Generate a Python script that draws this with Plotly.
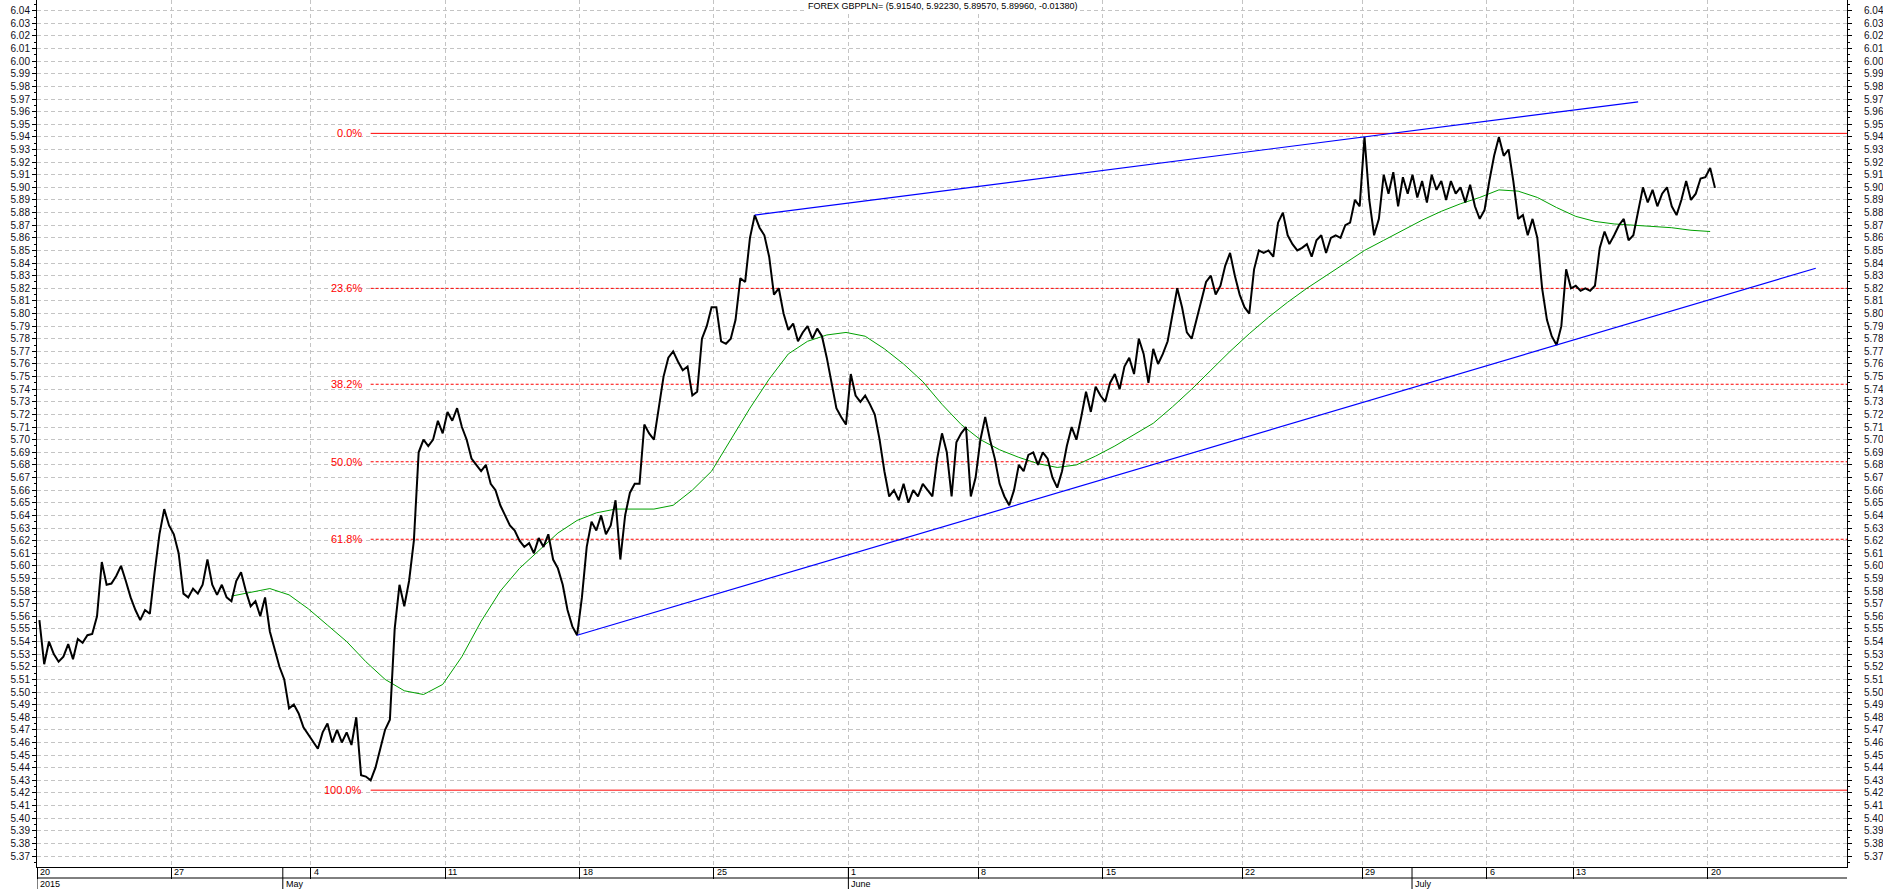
import datetime as dt
import plotly.graph_objects as go

TITLE = "FOREX GBPPLN= (5.91540, 5.92230, 5.89570, 5.89960, -0.01380)"

# Monday of every week shown (one list of closes per week, evenly spaced samples)
week_starts = ["2015-04-20", "2015-04-27", "2015-05-04", "2015-05-11", "2015-05-18",
               "2015-05-25", "2015-06-01", "2015-06-08", "2015-06-15", "2015-06-22",
               "2015-06-29", "2015-07-06", "2015-07-13", "2015-07-20"]
year_label = "2015"
month_starts = ["2015-05-01", "2015-06-01", "2015-07-01"]
month_names = ["May", "June", "July"]

close_w0420 = [5.557, 5.522, 5.540, 5.530, 5.524, 5.528, 5.538, 5.526, 5.542, 5.539, 5.545, 5.546,
               5.560, 5.603, 5.585, 5.586, 5.592, 5.600, 5.588, 5.575, 5.565, 5.557, 5.565, 5.562,
               5.595, 5.625, 5.645, 5.632]
close_w0427 = [5.625, 5.610, 5.578, 5.575, 5.582, 5.578, 5.585, 5.605, 5.585, 5.577, 5.585, 5.575,
               5.572, 5.588, 5.595, 5.580, 5.568, 5.572, 5.560, 5.575, 5.548, 5.535, 5.520, 5.510,
               5.487, 5.490, 5.483, 5.472, 5.466]
close_w0504 = [5.460, 5.455, 5.468, 5.475, 5.460, 5.470, 5.460, 5.468, 5.458, 5.480, 5.434, 5.433,
               5.430, 5.440, 5.455, 5.470, 5.478, 5.550, 5.585, 5.568, 5.588, 5.620, 5.690, 5.700,
               5.695, 5.700, 5.715, 5.705]
close_w0511 = [5.722, 5.715, 5.725, 5.710, 5.700, 5.685, 5.680, 5.675, 5.680, 5.665, 5.660, 5.648,
               5.640, 5.632, 5.628, 5.620, 5.615, 5.618, 5.610, 5.622, 5.615, 5.625, 5.605, 5.598,
               5.585, 5.565, 5.552, 5.545]
close_w0518 = [5.575, 5.615, 5.635, 5.628, 5.640, 5.625, 5.632, 5.652, 5.605, 5.640, 5.658, 5.665,
               5.665, 5.712, 5.705, 5.700, 5.725, 5.750, 5.765, 5.770, 5.762, 5.755, 5.758, 5.735,
               5.738, 5.780, 5.790, 5.805]
close_w0525 = [5.805, 5.778, 5.776, 5.780, 5.795, 5.828, 5.825, 5.860, 5.878, 5.868, 5.862, 5.845,
               5.815, 5.820, 5.800, 5.787, 5.792, 5.778, 5.785, 5.790, 5.780, 5.788, 5.782, 5.765,
               5.745, 5.725, 5.718, 5.712]
close_w0601 = [5.752, 5.735, 5.730, 5.735, 5.728, 5.720, 5.700, 5.675, 5.655, 5.660, 5.652, 5.665,
               5.650, 5.660, 5.655, 5.665, 5.660, 5.655, 5.685, 5.705, 5.690, 5.655, 5.698, 5.705,
               5.710, 5.655, 5.670]
close_w0608 = [5.700, 5.718, 5.700, 5.685, 5.665, 5.655, 5.648, 5.660, 5.680, 5.675, 5.688, 5.690,
               5.680, 5.690, 5.685, 5.670, 5.662, 5.675, 5.695, 5.710, 5.700, 5.718, 5.738, 5.722,
               5.742, 5.735]
close_w0615 = [5.730, 5.745, 5.752, 5.740, 5.758, 5.765, 5.752, 5.780, 5.768, 5.745, 5.772, 5.760,
               5.768, 5.778, 5.800, 5.820, 5.805, 5.785, 5.780, 5.795, 5.810, 5.825, 5.830, 5.815,
               5.822, 5.838, 5.848, 5.830, 5.815]
close_w0622 = [5.805, 5.800, 5.835, 5.850, 5.848, 5.850, 5.845, 5.872, 5.880, 5.862, 5.855, 5.850,
               5.852, 5.855, 5.845, 5.858, 5.862, 5.848, 5.860, 5.862, 5.860, 5.870, 5.872, 5.890,
               5.885]
close_w0629 = [5.940, 5.890, 5.862, 5.875, 5.910, 5.895, 5.912, 5.885, 5.908, 5.895, 5.910, 5.892,
               5.905, 5.888, 5.910, 5.898, 5.905, 5.890, 5.905, 5.895, 5.900, 5.888, 5.902, 5.885,
               5.875, 5.882]
close_w0706 = [5.905, 5.925, 5.940, 5.925, 5.930, 5.905, 5.875, 5.878, 5.862, 5.875, 5.860, 5.820,
               5.795, 5.782, 5.775, 5.790, 5.835, 5.820]
close_w0713 = [5.822, 5.818, 5.820, 5.818, 5.822, 5.852, 5.865, 5.855, 5.862, 5.870, 5.875, 5.858,
               5.862, 5.882, 5.900, 5.888, 5.898, 5.885, 5.895, 5.900, 5.885, 5.878, 5.890, 5.905,
               5.890, 5.895, 5.907, 5.908]
close_w0720 = [5.9154, 5.8996]

# moving average (green), read every 4th sample of the close series
MA_STEP = 4
ma_values = [None] * 10 + [
    5.576, 5.579, 5.582, 5.577, 5.566, 5.553, 5.540, 5.524, 5.510, 5.501, 5.498, 5.506,
    5.528, 5.556, 5.580, 5.598, 5.612, 5.626, 5.636, 5.642, 5.645, 5.645, 5.645, 5.648,
    5.660, 5.675, 5.700, 5.725, 5.748, 5.768, 5.778, 5.783, 5.785, 5.782, 5.772, 5.760,
    5.746, 5.728, 5.712, 5.700, 5.692, 5.686, 5.681, 5.678, 5.680, 5.687, 5.695, 5.704,
    5.713, 5.726, 5.740, 5.755, 5.770, 5.784, 5.797, 5.809, 5.820, 5.830, 5.840, 5.850,
    5.858, 5.866, 5.874, 5.881, 5.887, 5.892, 5.898, 5.897, 5.892, 5.884, 5.877, 5.873,
    5.871, 5.870, 5.869, 5.868, 5.866, 5.865]

# Fibonacci retracement anchors and levels
fib_high = 5.9428
fib_low = 5.4222
fib_levels = [0.0, 23.6, 38.2, 50.0, 61.8, 100.0]

# trend channel anchors (weeks whose extreme close anchors each line) and extension in samples
upper_anchor_weeks = ["2015-05-25", "2015-06-29"]
upper_extend = 57
lower_anchor_weeks = ["2015-05-11", "2015-07-06"]
lower_extend = 54

weeks = [close_w0420, close_w0427, close_w0504, close_w0511, close_w0518, close_w0525,
         close_w0601, close_w0608, close_w0615, close_w0622, close_w0629, close_w0706,
         close_w0713, close_w0720]
SAMPLES_PER_WEEK = 28

# ---------------------------------------------------------------------------
close = [v for w in weeks for v in w]
xs = list(range(len(close)))
starts = []
acc = 0
for w in weeks:
    starts.append(acc)
    acc += len(w)
X_MIN = -0.5
X_MAX = len(close) - 0.5 + SAMPLES_PER_WEEK - 1

week_dates = [dt.date.fromisoformat(d) for d in week_starts]
day_labels = [str(d.day) for d in week_dates]
tick_pos = [s - 0.5 for s in starts]


def date_pos(dstr):
    d = dt.date.fromisoformat(dstr)
    i = max(j for j, wd in enumerate(week_dates) if wd <= d)
    off = (d - week_dates[i]).days
    return starts[i] - 0.5 + off / 5.0 * len(weeks[i])


def anchor(week, mode):
    i = week_starts.index(week)
    vals = weeks[i]
    v = max(vals) if mode == "max" else min(vals)
    return starts[i] + vals.index(v), v


def trend(anchors, mode, ext):
    (x1, y1), (x2, y2) = anchor(anchors[0], mode), anchor(anchors[1], mode)
    slope = (y2 - y1) / (x2 - x1)
    xe = x2 + ext
    return [x1, xe], [y1, y1 + slope * (xe - x1)]


fig = go.Figure()

# fib lines
fib_x0 = close.index(min(close))
for lvl in fib_levels:
    price = fib_high - (fib_high - fib_low) * lvl / 100.0
    solid = lvl in (0.0, 100.0)
    fig.add_trace(go.Scatter(x=[fib_x0, X_MAX], y=[price, price], mode="lines",
                             line=dict(color="#ff0000", width=1,
                                       dash="solid" if solid else "3px,2px"),
                             hoverinfo="skip"))
    fig.add_annotation(x=fib_x0, y=price, xref="x", yref="y", text=f"{lvl:.1f}%",
                       showarrow=False, xanchor="right", yanchor="middle", xshift=-7,
                       font=dict(family="Liberation Sans, Arial, sans-serif", size=11,
                                 color="#ff0000"))

# moving average
ma_x = [i * MA_STEP for i in range(len(ma_values))]
fig.add_trace(go.Scatter(x=ma_x, y=ma_values, mode="lines",
                         line=dict(color="#00a000", width=1), connectgaps=False,
                         hoverinfo="skip"))

# price
fig.add_trace(go.Scatter(x=xs, y=close, mode="lines",
                         line=dict(color="#000000", width=2), hoverinfo="skip"))

# trend channel (on right axis, which matches the left one)
ux, uy = trend(upper_anchor_weeks, "max", upper_extend)
lx, ly = trend(lower_anchor_weeks, "min", lower_extend)
for tx, ty in ((ux, uy), (lx, ly)):
    fig.add_trace(go.Scatter(x=tx, y=ty, mode="lines", yaxis="y2",
                             line=dict(color="#0000ff", width=1.2), hoverinfo="skip"))

AX_FONT = dict(family="Liberation Sans, Arial, sans-serif", size=10, color="#101020")
NARROW = "Liberation Sans Narrow, Arial Narrow, Liberation Sans, Arial, sans-serif"
GRID = dict(showgrid=True, gridcolor="#c4c4c4", griddash="4px,3px", gridwidth=1)

yaxis_common = dict(range=[5.3613, 6.0485], tick0=5.37, dtick=0.01, tickformat=".2f",
                    ticks="outside", ticklen=4, tickcolor="#000000", tickwidth=1,
                    showline=True, linecolor="#000000", linewidth=1, zeroline=False,
                    tickfont=AX_FONT,
                    minor=dict(dtick=0.005, ticks="outside", ticklen=2, tickcolor="#000000",
                               showgrid=False))

fig.update_layout(
    width=1883, height=889,
    margin=dict(l=37, r=36, t=0, b=22, pad=0),
    paper_bgcolor="#ffffff", plot_bgcolor="#ffffff",
    showlegend=False,
    xaxis=dict(range=[X_MIN, X_MAX], tickmode="array", tickvals=tick_pos,
               showticklabels=False, ticks="outside", ticklen=11, tickcolor="#000000",
               tickwidth=1, showline=True, linecolor="#000000", linewidth=1,
               zeroline=False, **GRID),
    yaxis=dict(side="left", **yaxis_common, **GRID),
    yaxis2=dict(side="right", overlaying="y", matches="y", showgrid=False,
                ticklabelstandoff=10, **yaxis_common),
)

# bottom date / month band
ROW = 11.0 / 867.0
fig.add_shape(type="line", xref="paper", yref="paper", x0=0, x1=1, y0=-ROW, y1=-ROW,
              line=dict(color="#000000", width=1))
for pos, lab in zip(tick_pos, day_labels):
    fig.add_annotation(x=pos, y=-ROW / 2, xref="x", yref="paper", text=lab,
                       showarrow=False, xanchor="left", yanchor="middle", xshift=1,
                       font=dict(family=NARROW, size=9, color="#000000"))
month_pos = [X_MIN] + [date_pos(m) for m in month_starts]
month_text = [year_label] + month_names
for pos, lab in zip(month_pos, month_text):
    fig.add_shape(type="line", xref="x", yref="paper", x0=pos, x1=pos, y0=0, y1=-2 * ROW,
                  line=dict(color="#000000", width=1))
    fig.add_annotation(x=pos, y=-1.5 * ROW, xref="x", yref="paper", text=lab,
                       showarrow=False, xanchor="left", yanchor="middle", xshift=1,
                       font=dict(family=NARROW, size=9, color="#000000"))

fig.add_annotation(x=0.5, y=1, xref="paper", yref="paper", text=TITLE, showarrow=False,
                   xanchor="center", yanchor="top", yshift=1, bgcolor="#ffffff", borderpad=1,
                   font=dict(family=NARROW, size=9, color="#000000"))

fig.write_html("out.html")
